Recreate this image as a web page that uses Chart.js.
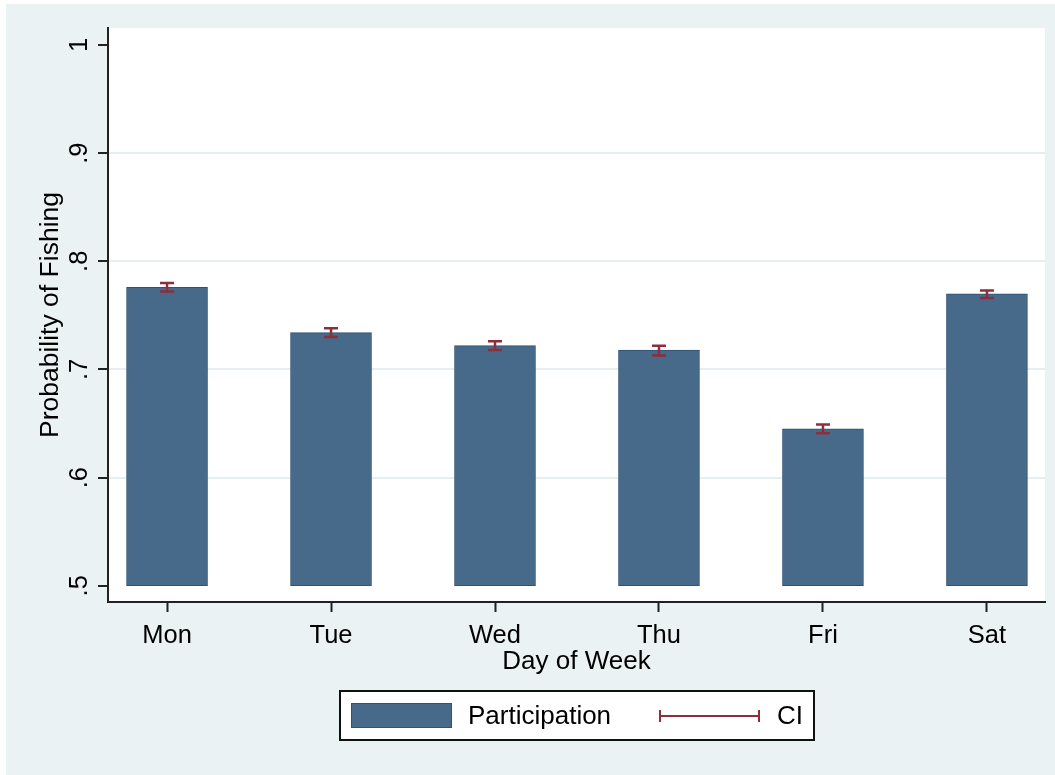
<!DOCTYPE html>
<html>
<head>
<meta charset="utf-8">
<script src="https://cdn.jsdelivr.net/npm/chart.js@4.4.1/dist/chart.umd.min.js"></script>
<style>
  html, body { margin: 0; padding: 0; background: #fff; }
  #wrap { width: 1055px; height: 775px; }
</style>
</head>
<body>
<div id="wrap"><canvas id="fishChart" width="1055" height="775"></canvas></div>
<script>
// data
const days = ["Mon", "Tue", "Wed", "Thu", "Fri", "Sat"];
const participation = [0.776, 0.734, 0.722, 0.718, 0.645, 0.770];
const ciLow = [0.772, 0.730, 0.718, 0.713, 0.641, 0.766];
const ciHigh = [0.780, 0.738, 0.726, 0.722, 0.649, 0.773];
const yTicks = [0.5, 0.6, 0.7, 0.8, 0.9, 1];
const barBase = 0.5;

const FONT = "'Liberation Sans', Arial, sans-serif";
const panelColor = "#EAF2F3";
const barColor = "#476A8A";
const ciColor = "#8C2F3A";

// background panel + white plot region
const backdrop = {
  id: "backdrop",
  beforeDraw(chart) {
    const { ctx, chartArea: a } = chart;
    ctx.save();
    ctx.fillStyle = panelColor;
    ctx.fillRect(6, 4, chart.width - 6, chart.height - 4);
    ctx.fillStyle = "#fff";
    ctx.fillRect(a.left, a.top, a.right - a.left, a.bottom - a.top);
    ctx.restore();
  },
};

// confidence interval whiskers
const ciBars = {
  id: "ciBars",
  afterDatasetsDraw(chart) {
    const { ctx, scales } = chart;
    ctx.save();
    ctx.strokeStyle = ciColor;
    ctx.lineWidth = 2.5;
    days.forEach((d, i) => {
      const x = scales.x.getPixelForValue(i);
      const y1 = scales.y.getPixelForValue(ciLow[i]);
      const y2 = scales.y.getPixelForValue(ciHigh[i]);
      ctx.beginPath();
      ctx.moveTo(x, y1); ctx.lineTo(x, y2);
      ctx.moveTo(x - 7, y1); ctx.lineTo(x + 7, y1);
      ctx.moveTo(x - 7, y2); ctx.lineTo(x + 7, y2);
      ctx.stroke();
    });
    ctx.restore();
  },
};

// stata style legend box under the plot
const legendBox = {
  id: "legendBox",
  afterDraw(chart) {
    const { ctx } = chart;
    ctx.save();
    ctx.fillStyle = "#fff";
    ctx.fillRect(340, 691, 474, 49);
    ctx.strokeStyle = "#111";
    ctx.lineWidth = 2;
    ctx.strokeRect(340, 691, 474, 49);

    ctx.fillStyle = barColor;
    ctx.fillRect(351, 703, 101, 25);
    ctx.strokeStyle = "#2f5272";
    ctx.lineWidth = 1;
    ctx.strokeRect(351.5, 703.5, 100, 24);

    ctx.strokeStyle = ciColor;
    ctx.lineWidth = 2;
    ctx.beginPath();
    ctx.moveTo(659, 716); ctx.lineTo(760, 716);
    ctx.moveTo(660, 710); ctx.lineTo(660, 722);
    ctx.moveTo(759, 710); ctx.lineTo(759, 722);
    ctx.stroke();

    ctx.fillStyle = "#000";
    ctx.font = "26px " + FONT;
    ctx.textBaseline = "middle";
    ctx.fillText("Participation", 468, 717);
    ctx.fillText("CI", 777, 717);
    ctx.restore();
  },
};

const ctx = document.getElementById("fishChart").getContext("2d");
const fishChart = new Chart(ctx, {
  type: "bar",
  data: {
    datasets: [
      {
        label: "Participation",
        data: days.map((d, i) => ({ x: i, y: [barBase, participation[i]] })),
        backgroundColor: barColor,
        borderColor: "#2f5272",
        borderWidth: 1,
        borderSkipped: false,
        barThickness: 81,
      },
    ],
  },
  options: {
    responsive: false,
    animation: false,
    layout: { padding: { left: 0, top: 28, right: 10, bottom: 93 } },
    plugins: {
      legend: { display: false },
      tooltip: { enabled: false },
    },
    scales: {
      x: {
        type: "linear",
        offset: false,
        min: -0.36,
        max: 5.354,
        afterBuildTicks: (scale) => {
          scale.ticks = days.map((d, i) => ({ value: i }));
        },
        afterFit: (scale) => { scale.height = 80; },
        grid: {
          offset: false,
          drawOnChartArea: false,
          tickLength: 10,
          tickColor: "#222",
          tickWidth: 2,
        },
        border: { display: true, color: "#222", width: 2 },
        ticks: {
          padding: 9,
          color: "#000",
          font: { family: FONT, size: 25.5 },
          callback: (v) => days[v],
        },
        title: {
          display: true,
          text: "Day of Week",
          color: "#000",
          font: { family: FONT, size: 26 },
          padding: { top: 0, bottom: 5 },
        },
      },
      y: {
        min: 0.485,
        max: 1.0157,
        afterBuildTicks: (scale) => {
          scale.ticks = yTicks.map((v) => ({ value: v }));
        },
        afterFit: (scale) => { scale.width = 108; },
        grid: {
          color: (c) => (c.tick && c.tick.value > 0.5 && c.tick.value < 1 ? "#E6EEF1" : "rgba(0,0,0,0)"),
          lineWidth: 2,
          tickLength: 10,
          tickColor: "#222",
          tickWidth: 2,
        },
        border: { display: true, color: "#222", width: 2 },
        ticks: {
          minRotation: 90,
          maxRotation: 90,
          crossAlign: "center",
          padding: 7,
          color: "#000",
          font: { family: FONT, size: 25.5 },
          callback: (v) => (v === 1 ? "1" : String(v).replace("0.", ".")),
        },
        title: {
          display: true,
          text: "Probability of Fishing",
          color: "#000",
          font: { family: FONT, size: 26.5 },
          padding: { top: 35, bottom: 0 },
        },
      },
    },
  },
  plugins: [backdrop, ciBars, legendBox],
});
</script>
</body>
</html>
